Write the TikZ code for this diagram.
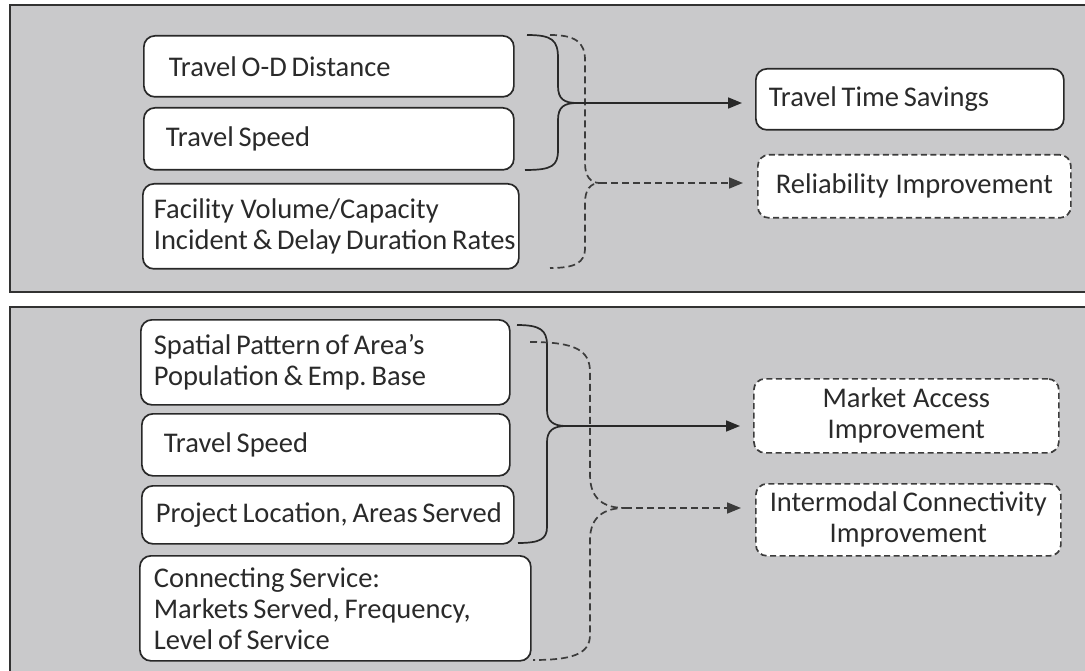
\documentclass[tikz,border=0pt]{standalone}
\usepackage{fontspec}
\setmainfont{Carlito}
\usetikzlibrary{arrows.meta}

\definecolor{panelgray}{RGB}{201,201,203}
\definecolor{framegray}{RGB}{50,50,50}
\definecolor{inkgray}{RGB}{40,40,40}
\definecolor{textgray}{RGB}{42,42,42}
\definecolor{dashgray}{RGB}{60,60,60}

% one unbreakable line of text with narrow word spaces
\newcommand\tightline[1]{\mbox{\spaceskip=0.17em\xspaceskip=0.17em\relax #1}}
% one unbreakable line of text with ordinary word spaces
\newcommand\plainline[1]{\mbox{\spaceskip=0.24em\xspaceskip=0.24em\relax #1}}
\newcommand\boxfont{\fontsize{28.5}{31}\selectfont}

\tikzset{
  box/.style={draw=inkgray, fill=white, line width=1.7pt, rounded corners=11pt,
    text=textgray, font=\boxfont, anchor=north west, inner ysep=0pt},
  dbox/.style={box, draw=dashgray, dash pattern=on 6pt off 3.5pt},
  lbox/.style={box, align=left},
  cbox/.style={dbox, align=center, inner xsep=6pt},
  brace/.style={draw=inkgray, line width=1.7pt},
  dbrace/.style={draw=dashgray, line width=1.7pt, dash pattern=on 7pt off 4pt},
  link/.style={draw=inkgray, line width=1.7pt, -{Triangle[length=14pt,width=11pt]}, shorten >=13pt},
  dlink/.style={draw=dashgray, line width=1.7pt, dash pattern=on 7pt off 4pt,
    -{Triangle[length=14pt,width=11pt]}, shorten >=14pt}
}

\begin{document}
\begin{tikzpicture}[x=1pt, y=-1pt]
\useasboundingbox (0,0) rectangle (1085,671);
\fill[white] (0,0) rectangle (1085,671);

% panels
\fill[panelgray] (10,5) rectangle (1085,292);
\draw[framegray, line width=2.6pt] (1085,5) -- (10,5) -- (10,292) -- (1085,292);
\fill[panelgray] (10,307) rectangle (1085,671);
\draw[framegray, line width=2.6pt] (1085,307) -- (10,307) -- (10,671);

% ---------- upper panel ----------
\node[lbox, minimum width=370pt, minimum height=61pt, inner xsep=25pt, text width=320pt]
  (tod) at (143,35) {\tightline{Travel O-D Distance}};
\node[lbox, minimum width=370pt, minimum height=62pt, inner xsep=22pt, text width=326pt]
  (ts1) at (143,107) {\tightline{Travel Speed}};
\node[lbox, minimum width=376pt, minimum height=85pt, inner xsep=11pt, text width=354pt]
  (fac) at (142,183) {\plainline{Facility Volume/Capacity}\\\tightline{Incident \& Delay Duration Rates}};

\node[box, minimum width=308pt, minimum height=61pt, inner xsep=13pt, text width=282pt, align=left]
  (tts) at (755,68) {\tightline{Travel Time Savings}};
\node[cbox, minimum width=313pt, minimum height=63pt, text width=301pt]
  (rel) at (757,154) {\plainline{Reliability Improvement}};

\coordinate (b1top) at (527,35);
\coordinate (b1tip) at (577,103);
\coordinate (b1bot) at (525,170);
\path[brace] (b1top) .. controls (552,35) and (558,40) .. (558,58) -- (558,86)
  .. controls (558,99) and (564,103) .. (b1tip)
  .. controls (564,103) and (558,107) .. (558,120) -- (558,150)
  .. controls (558,166) and (552,170) .. (b1bot);

\coordinate (d1top) at (550,35);
\coordinate (d1tip) at (600,183);
\coordinate (d1bot) at (550,268);
\path[dbrace] (d1top) .. controls (575,35) and (585,42) .. (585,60) -- (585,163)
  .. controls (585,176) and (590,183) .. (d1tip)
  .. controls (590,183) and (585,190) .. (585,203) -- (585,248)
  .. controls (585,263) and (575,268) .. (d1bot);

\draw[link] (b1tip) -- (b1tip -| tts.west);
\draw[dlink] (d1tip) -- (d1tip -| rel.west);

% ---------- lower panel ----------
\node[lbox, minimum width=369pt, minimum height=85pt, inner xsep=13pt, text width=343pt]
  (spa) at (140,319) {\tightline{Spatial Pattern of Area’s}\\\tightline{Population \& Emp. Base}};
\node[lbox, minimum width=368pt, minimum height=62pt, inner xsep=22pt, text width=324pt]
  (ts2) at (141,413) {\tightline{Travel Speed}};
\node[lbox, minimum width=372pt, minimum height=58pt, inner xsep=14pt, text width=344pt]
  (pl) at (141,485) {\tightline{Project Location, Areas Served}};
\node[lbox, minimum width=391pt, minimum height=105pt, inner xsep=14pt, text width=363pt]
  (con) at (139,555) {\tightline{Connecting Service:}\\\tightline{Markets Served, Frequency,}\\\tightline{Level of Service}};

\node[cbox, minimum width=305pt, minimum height=74pt, text width=293pt]
  (mkt) at (753,378) {\plainline{Market Access}\\Improvement};
\node[cbox, minimum width=305pt, minimum height=72pt, text width=293pt]
  (imc) at (755,483) {\tightline{Intermodal Connectivity}\\Improvement};

\coordinate (b2top) at (517,325);
\coordinate (b2tip) at (566,426);
\coordinate (b2bot) at (518,543);
\path[brace] (b2top) .. controls (540,325) and (547,330) .. (547,345) -- (547,410)
  .. controls (547,421) and (553,426) .. (b2tip)
  .. controls (553,426) and (547,431) .. (547,442) -- (547,527)
  .. controls (547,539) and (540,543) .. (b2bot);

\coordinate (d2top) at (530,342);
\coordinate (d2tip) at (625,508);
\coordinate (d2bot) at (533,660);
\path[dbrace] (d2top) .. controls (575,342) and (590,350) .. (590,372) -- (590,475)
  .. controls (590,500) and (605,508) .. (d2tip)
  .. controls (605,508) and (590,516) .. (590,540) -- (590,635)
  .. controls (590,655) and (570,660) .. (d2bot);

\draw[link] (b2tip) -- (b2tip -| mkt.west);
\draw[dlink] (d2tip) -- (d2tip -| imc.west);
\end{tikzpicture}
\end{document}
